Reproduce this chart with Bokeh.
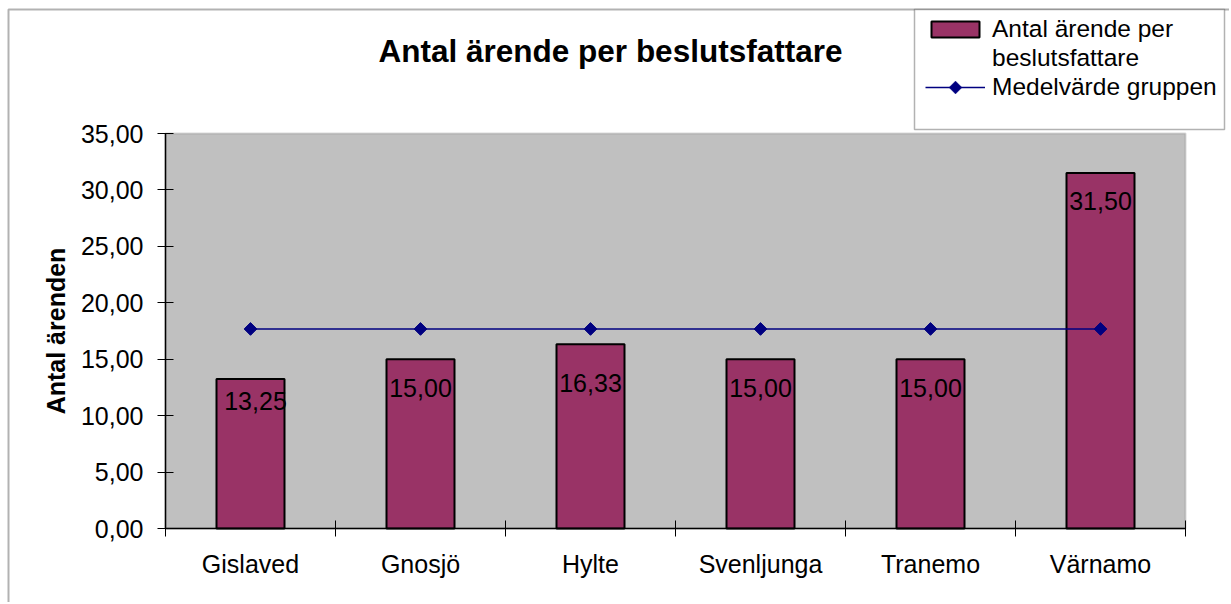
from bokeh.plotting import figure
from bokeh.models import (Range1d, FixedTicker, Legend, LegendItem, ColumnDataSource,
                          LinearAxis, BoxAnnotation, Label, PolyAnnotation)
from bokeh.core.properties import value
from bokeh.embed import file_html
from bokeh.resources import INLINE
import numpy as np

# ---- data ----
categories = ["Gislaved", "Gnosjö", "Hylte", "Svenljunga", "Tranemo", "Värnamo"]
arenden = [13.25, 15.00, 16.33, 15.00, 15.00, 31.50]
medel = [17.68, 17.68, 17.68, 17.68, 17.68, 17.68]
y_ticks = [0, 5, 10, 15, 20, 25, 30, 35]
title_text = "Antal ärende per beslutsfattare"
y_label = "Antal ärenden"
bar_legend_lines = ["Antal ärende per", "beslutsfattare"]
line_legend = "Medelvärde gruppen"


def sv(v):
    return f"{v:.2f}".replace(".", ",")


# ---- layout (pixels) ----
W, H = 1229, 602
PL, PR, PT, PB = 165, 1185, 133, 528       # plot-area edges on the canvas
YMAX = 35
NCAT = len(categories)
kx = (PR - PL) / NCAT
ky = (PB - PT) / YMAX


def dx(px):
    return (px - PL) / kx


def dy(py):
    return (PB - py) / ky


FONT = "Liberation Sans"
NAVY = "#000080"
xs = [i + 0.5 for i in range(NCAT)]
lab_dy = [22, 29, 39, 29, 29, 28]   # label offsets below bar tops (px)
lab_dx = [5, 0, 0, 0, 0, 0]
src = ColumnDataSource(dict(x=xs, y=arenden, m=medel, lbl=[sv(v) for v in arenden],
                            ldy=lab_dy, ldx=lab_dx))

p = figure(width=W, height=H, title=None,
           x_range=Range1d(dx(0), dx(W)), y_range=Range1d(dy(H), dy(0)),
           x_axis_location=None, y_axis_location=None,
           output_backend="svg", toolbar_location=None, min_border=0)
p.background_fill_color = "white"
p.border_fill_color = "white"
p.outline_line_color = None
p.xgrid.visible = False
p.ygrid.visible = False

# outer chart border (left and top visible)
p.add_layout(BoxAnnotation(left=dx(8), top=dy(9), right=dx(W + 50), bottom=dy(H + 50),
                           fill_alpha=0, line_color="black", line_width=2, level="underlay"))
# plot area
p.add_layout(BoxAnnotation(left=0, right=NCAT, bottom=0, top=YMAX,
                           fill_color="#C0C0C0", fill_alpha=1,
                           line_color="#808080", line_width=2, level="underlay"))

# x axis
xa = LinearAxis(fixed_location=0, bounds=(0, NCAT))
xa.ticker = FixedTicker(ticks=xs, minor_ticks=list(range(NCAT + 1)))
xa.major_label_overrides = {x: c for x, c in zip(xs, categories)}
xa.major_tick_line_color = None
xa.major_tick_in = 0
xa.major_tick_out = 8
xa.minor_tick_in = 8
xa.minor_tick_out = 8
xa.minor_tick_line_color = "black"
xa.minor_tick_line_width = 1
xa.major_label_standoff = 13
xa.major_label_text_font = FONT
xa.major_label_text_font_size = "25px"
xa.major_label_text_color = "black"
xa.axis_line_color = "black"
xa.axis_line_width = 1.5
p.add_layout(xa, "below")

# y axis
ya = LinearAxis(fixed_location=0, bounds=(0, YMAX))
ya.ticker = FixedTicker(ticks=y_ticks, minor_ticks=[])
ya.major_label_overrides = {t: sv(t) for t in y_ticks}
ya.major_tick_in = 8
ya.major_tick_out = 8
ya.major_tick_line_color = "black"
ya.minor_tick_line_color = None
ya.major_label_standoff = 14
ya.major_label_text_font = FONT
ya.major_label_text_font_size = "25px"
ya.major_label_text_color = "black"
ya.axis_line_color = "black"
ya.axis_line_width = 1.5
ya.axis_label = y_label
ya.axis_label_text_font = FONT
ya.axis_label_text_font_size = "25px"
ya.axis_label_text_font_style = "bold"
ya.axis_label_text_color = "black"
ya.axis_label_standoff = 8
p.add_layout(ya, "left")

# marks
bars = p.vbar(x="x", top="y", width=0.4, source=src, fill_color="#993366",
              line_color="black", line_width=2)
line_r = p.line(x="x", y="m", source=src, line_color=NAVY, line_width=1.5)
pts = p.scatter(x="x", y="m", source=src, marker="square", angle=np.pi / 4, size=9,
                fill_color=NAVY, line_color=NAVY)
p.text(x="x", y="y", text="lbl", source=src, text_align="center", text_baseline="middle",
       x_offset="ldx", y_offset="ldy", text_font=value(FONT), text_font_size="25px",
       text_color="black")
# empty renderer used only as the (invisible) glyph for the wrapped legend line
blank = p.scatter(x=[], y=[], size=1, fill_alpha=0, line_alpha=0)

# title
p.add_layout(Label(x=dx(610), y=dy(50), text=title_text, text_align="center",
                   text_baseline="middle", text_font=FONT, text_font_size="31.5px",
                   text_font_style="bold", text_color="black"))

# legend box
p.add_layout(BoxAnnotation(left=dx(914), right=dx(1224), top=dy(9), bottom=dy(129),
                           fill_color="white", fill_alpha=1,
                           line_color="black", line_width=1.5))
# legend entries
LEG_X, LEG_BOTTOM, GW = 925, 101, 60
legend = Legend(items=[LegendItem(label=bar_legend_lines[0], renderers=[bars]),
                       LegendItem(label=bar_legend_lines[1], renderers=[blank]),
                       LegendItem(label=line_legend, renderers=[line_r])],
                location=(LEG_X, H - LEG_BOTTOM))
legend.glyph_width = GW
legend.glyph_height = 20
legend.label_height = 28
legend.label_text_font = FONT
legend.label_text_font_size = "24.5px"
legend.label_text_color = "black"
legend.label_standoff = 7
legend.padding = 0
legend.margin = 0
legend.spacing = 1
legend.border_line_color = None
legend.background_fill_alpha = 0
p.add_layout(legend)

# diamond key on the legend line (Bokeh legend keys ignore marker rotation)
kcx, kcy, kr = LEG_X + GW / 2, LEG_BOTTOM - 14, 6.5
p.add_layout(PolyAnnotation(xs=[dx(kcx - kr), dx(kcx), dx(kcx + kr), dx(kcx)],
                            ys=[dy(kcy), dy(kcy - kr), dy(kcy), dy(kcy + kr)],
                            fill_color=NAVY, fill_alpha=1, line_color=NAVY,
                            line_width=1, level="overlay"))

open("out.html", "w").write(file_html(p, INLINE))
